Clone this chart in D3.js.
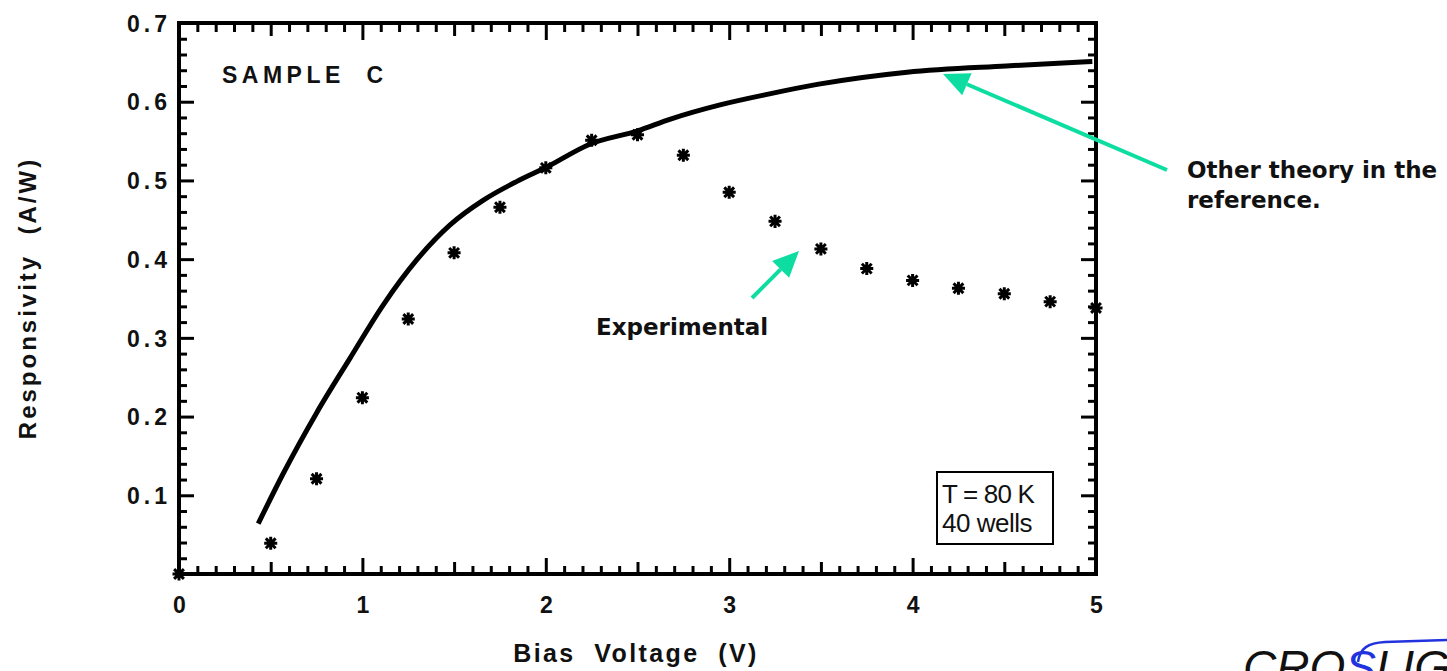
<!DOCTYPE html>
<html>
<head>
<meta charset="utf-8">
<script src="https://cdn.jsdelivr.net/npm/d3@7"></script>
<style>
  body { margin: 0; background: #fff; }
  svg { display: block; }
</style>
</head>
<body>
<svg width="1447" height="671"></svg>
<script>
var expVoltage = [0, 0.5, 0.75, 1.0, 1.25, 1.5, 1.75, 2.0, 2.25, 2.5, 2.75, 3.0, 3.25, 3.5, 3.75, 4.0, 4.25, 4.5, 4.75, 5.0];
var expResp = [0, 0.039, 0.121, 0.224, 0.324, 0.408, 0.466, 0.516, 0.551, 0.558, 0.532, 0.485, 0.448, 0.413, 0.388, 0.373, 0.363, 0.356, 0.346, 0.338];

// theory curve (sampled along the drawn line)
var theoryVoltage = [0.432, 0.569, 0.751, 0.932, 1.114, 1.296, 1.478, 1.66, 1.84, 2.005, 2.24, 2.5, 2.68, 2.95, 3.22, 3.48, 3.97, 4.51, 4.98];
var theoryResp = [0.064, 0.128, 0.205, 0.274, 0.342, 0.399, 0.4435, 0.475, 0.4985, 0.517, 0.546, 0.563, 0.578, 0.596, 0.610, 0.622, 0.6375, 0.6455, 0.651];

var xTickLabels = [0, 1, 2, 3, 4, 5];
var yTickLabels = [0.1, 0.2, 0.3, 0.4, 0.5, 0.6, 0.7];

(function() {
var svg = d3.select("svg");
var helv = "Liberation Sans, Arial, Helvetica, sans-serif";
var tahoma = "DejaVu Sans, Verdana, sans-serif";
var plotLeft = 179, plotRight = 1096, plotTop = 23, plotBottom = 574;

var x = d3.scaleLinear().domain([0, 5]).range([plotLeft, plotRight]);
var y = d3.scaleLinear().domain([0, 0.7]).range([plotBottom, plotTop]);

var xMinor = d3.range(0, 51).map(function(i) { return i / 10; });
var yMinor = d3.range(0, 36).map(function(i) { return i / 50; });

function xLen(d) {
  var k = Math.round(d * 10);
  if (k % 10 === 0) return 16;
  if (k % 5 === 0) return 12;
  return 8;
}
function yLen(d) {
  var k = Math.round(d * 50);
  return k % 5 === 0 ? 15 : 8;
}
function inList(list, d) {
  return list.some(function(v) { return Math.abs(v - d) < 1e-6; });
}

// bottom axis
var gb = svg.append("g").attr("transform", "translate(0," + plotBottom + ")")
  .call(d3.axisBottom(x).tickValues(xMinor).tickSize(0).tickFormat(function(d) {
    return inList(xTickLabels, d) ? d3.format("d")(d) : "";
  }));
gb.select(".domain").remove();
gb.selectAll(".tick line").attr("y2", function(d) { return -xLen(d); }).attr("stroke", "#000").attr("stroke-width", 3);
gb.selectAll(".tick text").attr("y", 39).attr("dy", 0)
  .attr("font-family", helv).attr("font-size", 23).attr("font-weight", "bold").attr("fill", "#111");

// top axis
var gt = svg.append("g").attr("transform", "translate(0," + plotTop + ")")
  .call(d3.axisTop(x).tickValues(xMinor).tickSize(0).tickFormat(""));
gt.select(".domain").remove();
gt.selectAll(".tick line").attr("y2", function(d) { return xLen(d) + 1; }).attr("stroke", "#000").attr("stroke-width", 3);

// left axis
var gl = svg.append("g").attr("transform", "translate(" + plotLeft + ",0)")
  .call(d3.axisLeft(y).tickValues(yMinor).tickSize(0).tickFormat(function(d) {
    return inList(yTickLabels, d) ? d3.format(".1f")(d) : "";
  }));
gl.select(".domain").remove();
gl.selectAll(".tick line").attr("x2", function(d) { return yLen(d); }).attr("stroke", "#000").attr("stroke-width", 3);
gl.selectAll(".tick text").attr("x", -8).attr("dy", "0.36em")
  .attr("font-family", helv).attr("font-size", 23).attr("font-weight", "bold")
  .attr("letter-spacing", 4).attr("fill", "#111");

// right axis
var gr = svg.append("g").attr("transform", "translate(" + plotRight + ",0)")
  .call(d3.axisRight(y).tickValues(yMinor).tickSize(0).tickFormat(""));
gr.select(".domain").remove();
gr.selectAll(".tick line").attr("x2", function(d) { return -yLen(d); }).attr("stroke", "#000").attr("stroke-width", 3);

// frame
svg.append("rect")
  .attr("x", plotLeft).attr("y", plotTop)
  .attr("width", plotRight - plotLeft).attr("height", plotBottom - plotTop)
  .attr("fill", "none").attr("stroke", "#000").attr("stroke-width", 4);

// theory line
var theory = theoryVoltage.map(function(v, i) { return [v, theoryResp[i]]; });
var line = d3.line()
  .x(function(d) { return x(d[0]); })
  .y(function(d) { return y(d[1]); })
  .curve(d3.curveMonotoneX);
svg.append("path")
  .datum(theory)
  .attr("fill", "none")
  .attr("stroke", "#000")
  .attr("stroke-width", 5)
  .attr("d", line);

// experimental points as 8-armed asterisks
var star8 = {
  draw: function(context, size) {
    var r = Math.sqrt(size) / 2;
    var s = r * 0.75;
    context.moveTo(-r, 0); context.lineTo(r, 0);
    context.moveTo(0, -r); context.lineTo(0, r);
    context.moveTo(-s, -s); context.lineTo(s, s);
    context.moveTo(-s, s); context.lineTo(s, -s);
  }
};
var exp = expVoltage.map(function(v, i) { return [v, expResp[i]]; });
svg.append("g").selectAll("path")
  .data(exp)
  .enter().append("path")
  .attr("transform", function(d) { return "translate(" + x(d[0]) + "," + y(d[1]) + ")"; })
  .attr("d", d3.symbol().type(star8).size(170))
  .attr("fill", "none")
  .attr("stroke", "#000")
  .attr("stroke-width", 3);

// labels
svg.append("text")
  .attr("x", 222).attr("y", 83)
  .attr("font-family", helv).attr("font-size", 23).attr("font-weight", "bold")
  .attr("letter-spacing", 4.5).attr("fill", "#111")
  .attr("xml:space", "preserve")
  .text("SAMPLE  C");

svg.append("text")
  .attr("x", 636).attr("y", 662)
  .attr("text-anchor", "middle")
  .attr("font-family", helv).attr("font-size", 25).attr("font-weight", "bold")
  .attr("letter-spacing", 2.4).attr("fill", "#111")
  .attr("xml:space", "preserve")
  .text("Bias  Voltage  (V)");

svg.append("text")
  .attr("transform", "translate(36,298) rotate(-90)")
  .attr("text-anchor", "middle")
  .attr("font-family", helv).attr("font-size", 24).attr("font-weight", "bold")
  .attr("letter-spacing", 3).attr("fill", "#111")
  .attr("xml:space", "preserve")
  .text("Responsivity  (A/W)");

// T / wells box
svg.append("rect")
  .attr("x", 937).attr("y", 472).attr("width", 116).attr("height", 72)
  .attr("fill", "#fff").attr("stroke", "#000").attr("stroke-width", 2);
svg.append("text")
  .attr("x", 942).attr("y", 503)
  .attr("font-family", helv).attr("font-size", 26).attr("letter-spacing", -0.8).attr("fill", "#111")
  .text("T = 80 K");
svg.append("text")
  .attr("x", 942).attr("y", 532)
  .attr("font-family", helv).attr("font-size", 26).attr("letter-spacing", -0.5).attr("fill", "#111")
  .text("40 wells");

// annotations
var green = "#0edda2";
function arrow(x1, y1, x2, y2) {
  var ang = Math.atan2(y2 - y1, x2 - x1);
  var L = 26, W = 12;
  var bx = x2 - L * Math.cos(ang), by = y2 - L * Math.sin(ang);
  svg.append("line")
    .attr("x1", x1).attr("y1", y1).attr("x2", bx).attr("y2", by)
    .attr("stroke", green).attr("stroke-width", 4);
  svg.append("path")
    .attr("d", "M" + x2 + "," + y2 +
      "L" + (bx + W * Math.sin(ang)) + "," + (by - W * Math.cos(ang)) +
      "L" + (bx - W * Math.sin(ang)) + "," + (by + W * Math.cos(ang)) + "Z")
    .attr("fill", green);
}
arrow(1167, 170, 943, 74);
arrow(752, 298, 799, 251);

svg.append("text")
  .attr("x", 596).attr("y", 335)
  .attr("font-family", tahoma).attr("font-size", 23).attr("font-weight", "bold").attr("fill", "#111")
  .text("Experimental");

svg.append("text")
  .attr("x", 1187).attr("y", 178)
  .attr("font-family", tahoma).attr("font-size", 23).attr("font-weight", "bold").attr("fill", "#111")
  .text("Other theory in the");
svg.append("text")
  .attr("x", 1187).attr("y", 208)
  .attr("font-family", tahoma).attr("font-size", 23).attr("font-weight", "bold").attr("fill", "#111")
  .text("reference.");

// logo, cut off by the page edge as in the original slide
var logo = svg.append("text")
  .attr("x", 1243).attr("y", 683)
  .attr("font-family", helv).attr("font-size", 46).attr("font-style", "italic").attr("fill", "#111");
logo.append("tspan").text("CRO");
logo.append("tspan").attr("fill", "#2233dd").text("S");
logo.append("tspan").text("LIGHT");
svg.append("path")
  .attr("d", "M1358,662 C1360,648 1368,643 1385,642 L1447,640")
  .attr("fill", "none").attr("stroke", "#2233dd").attr("stroke-width", 2.5);
})();
</script>
</body>
</html>
